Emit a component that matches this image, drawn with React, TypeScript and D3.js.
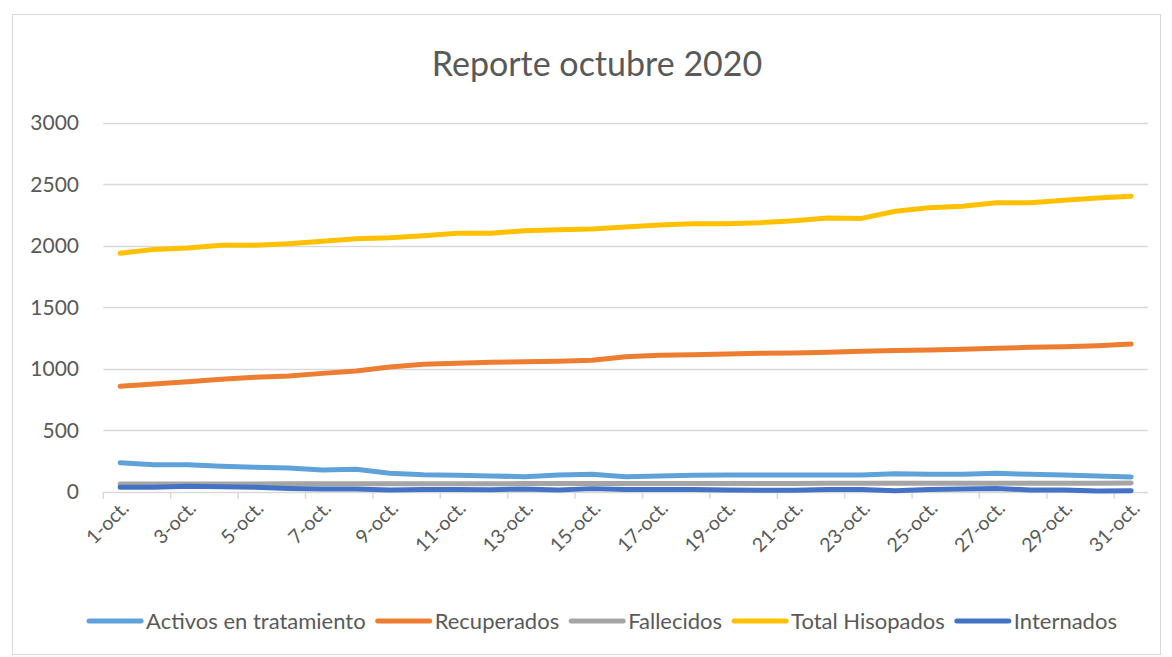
import React, { useEffect, useRef } from "react";
import * as d3 from "d3";

const categories = [
  "1-oct.", "2-oct.", "3-oct.", "4-oct.", "5-oct.", "6-oct.", "7-oct.", "8-oct.", "9-oct.", "10-oct.",
  "11-oct.", "12-oct.", "13-oct.", "14-oct.", "15-oct.", "16-oct.", "17-oct.", "18-oct.", "19-oct.", "20-oct.",
  "21-oct.", "22-oct.", "23-oct.", "24-oct.", "25-oct.", "26-oct.", "27-oct.", "28-oct.", "29-oct.", "30-oct.", "31-oct.",
];

const activos = [236, 220, 220, 206, 198, 193, 176, 182, 150, 138, 133, 128, 122, 136, 141, 122, 128, 133, 136, 136, 136, 136, 136, 146, 141, 141, 150, 141, 136, 128, 120];
const recuperados = [857, 876, 894, 914, 930, 941, 962, 981, 1014, 1036, 1044, 1052, 1057, 1060, 1068, 1098, 1109, 1114, 1120, 1125, 1128, 1133, 1141, 1147, 1152, 1158, 1166, 1174, 1179, 1187, 1200];
const fallecidos = [62, 62, 63, 63, 63, 64, 64, 64, 65, 65, 65, 65, 66, 66, 66, 66, 67, 67, 67, 67, 67, 68, 68, 68, 68, 68, 69, 69, 69, 69, 70];
const totalHisopados = [1938, 1970, 1981, 2003, 2003, 2016, 2036, 2057, 2065, 2081, 2101, 2101, 2122, 2130, 2136, 2152, 2168, 2179, 2179, 2187, 2203, 2225, 2222, 2280, 2309, 2320, 2350, 2350, 2369, 2388, 2402];
const internados = [36, 36, 44, 40, 36, 27, 22, 22, 14, 18, 18, 16, 22, 14, 25, 18, 18, 18, 14, 11, 11, 18, 18, 8, 18, 22, 27, 14, 14, 5, 8];

const yTicks = [0, 500, 1000, 1500, 2000, 2500, 3000];

const seriesNames = ["Activos en tratamiento", "Recuperados", "Fallecidos", "Total Hisopados", "Internados"];
const seriesColors = ["#5FA2DA", "#ED7D31", "#A5A5A5", "#FFC000", "#4472C4"];
const seriesValues = [activos, recuperados, fallecidos, totalHisopados, internados];

const title = "Reporte octubre 2020";

const W = 1172;
const H = 657;
const FONT = "Lato, 'Open Sans', sans-serif";
const TEXT = "#595959";
const GRID = "#d9d9d9";

export default function App() {
  const ref = useRef<SVGSVGElement | null>(null);

  useEffect(() => {
    const svg = d3.select(ref.current);
    svg.selectAll("*").remove();

    const plot = { left: 103.3, right: 1148, top: 122.7, bottom: 491.7 };

    const x = d3.scaleBand<string>().domain(categories).range([plot.left, plot.right]).padding(0);
    const y = d3.scaleLinear().domain([0, 3000]).range([plot.bottom, plot.top]);

    // chart border
    svg.append("rect")
      .attr("x", 12.5).attr("y", 14.5)
      .attr("width", 1148).attr("height", 640)
      .attr("fill", "#fff").attr("stroke", GRID).attr("stroke-width", 1);

    // title
    svg.append("text")
      .attr("x", 597).attr("y", 76)
      .attr("text-anchor", "middle")
      .attr("font-family", FONT).attr("font-size", 34)
      .attr("fill", TEXT)
      .text(title);

    // gridlines
    svg.append("g").selectAll("line").data(yTicks).join("line")
      .attr("x1", plot.left).attr("x2", plot.right)
      .attr("y1", d => Math.round(y(d)) + 0.5).attr("y2", d => Math.round(y(d)) + 0.5)
      .attr("stroke", GRID).attr("stroke-width", 1.5);

    // y labels
    svg.append("g").selectAll("text").data(yTicks).join("text")
      .attr("x", 79).attr("y", d => y(d))
      .attr("dy", "0.35em")
      .attr("text-anchor", "end")
      .attr("font-family", FONT).attr("font-size", 21)
      .attr("fill", TEXT)
      .text(d => String(d));

    // x tick marks every 2 categories
    const tickIdx = d3.range(0, categories.length, 2);
    svg.append("g").selectAll("line").data(tickIdx).join("line")
      .attr("x1", i => x(categories[i])!).attr("x2", i => x(categories[i])!)
      .attr("y1", plot.bottom).attr("y2", plot.bottom + 7)
      .attr("stroke", GRID).attr("stroke-width", 1.5);

    // x labels
    const labelIdx = d3.range(0, categories.length, 2);
    svg.append("g").selectAll("text").data(labelIdx).join("text")
      .attr("transform", i => `translate(${x(categories[i])! + x.bandwidth() / 2 + 5},${plot.bottom + 13}) rotate(-45)`)
      .attr("text-anchor", "end")
      .attr("dy", "0.35em")
      .attr("font-family", FONT).attr("font-size", 19.5)
      .attr("fill", TEXT)
      .text(i => categories[i]);

    // lines
    const line = d3.line<number>()
      .x((_, i) => x(categories[i])! + x.bandwidth() / 2)
      .y(d => y(d));

    seriesValues.forEach((vals, k) => {
      svg.append("path")
        .attr("d", line(vals)!)
        .attr("fill", "none")
        .attr("stroke", seriesColors[k])
        .attr("stroke-width", 5)
        .attr("stroke-linejoin", "round")
        .attr("stroke-linecap", "round");
    });

    // legend
    const legY = 621;
    const lineLen = 52;
    const gapA = 5;
    const gapB = 12;
    const leg = svg.append("g");
    const items = seriesNames.map((name, k) => {
      const g = leg.append("g");
      g.append("line")
        .attr("x1", 0).attr("x2", lineLen)
        .attr("y1", 0).attr("y2", 0)
        .attr("stroke", seriesColors[k]).attr("stroke-width", 5)
        .attr("stroke-linecap", "round");
      const t = g.append("text")
        .attr("x", lineLen + gapA).attr("y", 0)
        .attr("dy", "0.35em")
        .attr("font-family", FONT).attr("font-size", 22)
        .attr("fill", TEXT)
        .text(name);
      const w = (t.node() as SVGTextElement).getComputedTextLength();
      return { g, w: lineLen + gapA + w };
    });
    const total = d3.sum(items, d => d.w) + gapB * (items.length - 1);
    let cx = 603 - total / 2;
    items.forEach(it => {
      it.g.attr("transform", `translate(${cx},${legY})`);
      cx += it.w + gapB;
    });
  }, []);

  return (
    <svg
      ref={ref}
      width={W}
      height={H}
      style={{ position: "absolute", left: 0, top: 0, display: "block", background: "#fff" }}
    />
  );
}
